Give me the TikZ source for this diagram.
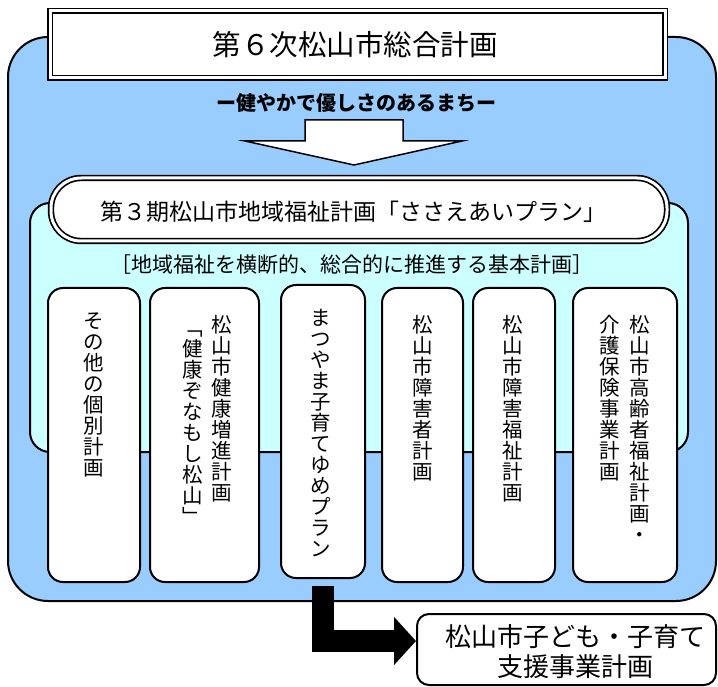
\documentclass[tikz,border=0pt]{standalone}
\usepackage{fontspec}
\newfontfamily\jp{Noto Sans CJK JP}
\usetikzlibrary{arrows.meta}
\definecolor{bluebg}{RGB}{153,204,255}
\definecolor{cyanbg}{RGB}{204,255,255}
\begin{document}
\begin{tikzpicture}[x=1pt,y=-1pt,
  panel/.style={draw=black, line width=2pt, inner sep=0pt},
  col/.style={panel, fill=white, rounded corners=15pt, minimum height=294pt},
  dbl/.style={draw=black, fill=white, double=white, double distance=3pt, line width=1.7pt, inner sep=0pt},
  vtext/.style={font=\jp\fontsize{20.5}{21}\selectfont, align=center, inner sep=0pt, anchor=north},
  htext/.style={inner sep=0pt, align=center},
  bigarrow/.style={line width=22pt, draw=black, -{Triangle[width=47pt,length=22pt]}}
]
\useasboundingbox (0,0) rectangle (718,687);
% outer blue panel
\node[panel, fill=bluebg, rounded corners=40pt, minimum width=708pt, minimum height=564pt] (outer) at (362,319) {};
% title
\node[dbl, minimum width=615pt, minimum height=67pt] (title) at (357.5,44.5) {};
\node[htext, font=\jp\fontsize{28.5}{30}\selectfont] (titletext) at (355,45) {第６次松山市総合計画};
% subtitle
\node[htext, font=\jp\bfseries\fontsize{20}{22}\selectfont] (sub) at (356,103) {ー健やかで優しさのあるまちー};
% block down arrow
\draw[line width=1.5pt, fill=white, line join=miter] (305,120) -- (403,120) -- (403,141) -- (462,141) -- (354,165) -- (245,141) -- (305,141) -- cycle;
% cyan panel
\node[panel, fill=cyanbg, rounded corners=20pt, minimum width=658pt, minimum height=249pt] (cyan) at (359,327.5) {};
% plan box
\node[dbl, rounded corners=30pt, minimum width=616pt, minimum height=63pt] (plan) at (359,209.5) {};
\node[htext, font=\jp\fontsize{23}{24}\selectfont] (plantext) at (353,212) {第３期松山市地域福祉計画「ささえあいプラン」};
\node[htext, font=\jp\fontsize{21}{22}\selectfont] (bracket) at (352,265) {［地域福祉を横断的、総合的に推進する基本計画］};
% columns
\node[col, minimum width=92pt] (c1) at (94,435) {};
\node[col, minimum width=109pt] (c2) at (204.5,435) {};
\node[col, minimum width=84pt, minimum height=293pt] (c3) at (323,431.5) {};
\node[col, minimum width=81pt] (c4) at (422.5,435) {};
\node[col, minimum width=82pt] (c5) at (514,435) {};
\node[col, minimum width=104pt] (c6) at (625,435) {};
% column texts
\node[vtext] (t1) at (94,313) {そ\\の\\他\\の\\個\\別\\計\\画};
\node[vtext] (t2a) at (222,315) {松\\山\\市\\健\\康\\増\\進\\計\\画};
\node[vtext] (t2b) at (193,331) {﹁\\健\\康\\ぞ\\な\\も\\し\\松\\山\\﹂};
\node[vtext] (t3) at (321,309) {ま\\つ\\や\\ま\\子\\育\\て\\ゆ\\め\\プ\\ラ\\ン};
\node[vtext] (t4) at (423,315) {松\\山\\市\\障\\害\\者\\計\\画};
\node[vtext] (t5) at (513,315) {松\\山\\市\\障\\害\\福\\祉\\計\\画};
\node[vtext] (t6a) at (640,315) {松\\山\\市\\高\\齢\\者\\福\\祉\\計\\画\\・};
\node[vtext] (t6b) at (610,315) {介\\護\\保\\険\\事\\業\\計\\画};
% bottom box
\node[panel, fill=white, rounded corners=12pt, minimum width=299pt, minimum height=71pt] (bot) at (566.5,649.5) {};
\node[htext, font=\jp\fontsize{26}{30}\selectfont] (bottext) at (575,652) {松山市子ども・子育て\\支援事業計画};
% L arrow
\coordinate (tip) at (416,641);
\draw[bigarrow] ([yshift=-7pt]c3.south) |- (tip);
\end{tikzpicture}
\end{document}
